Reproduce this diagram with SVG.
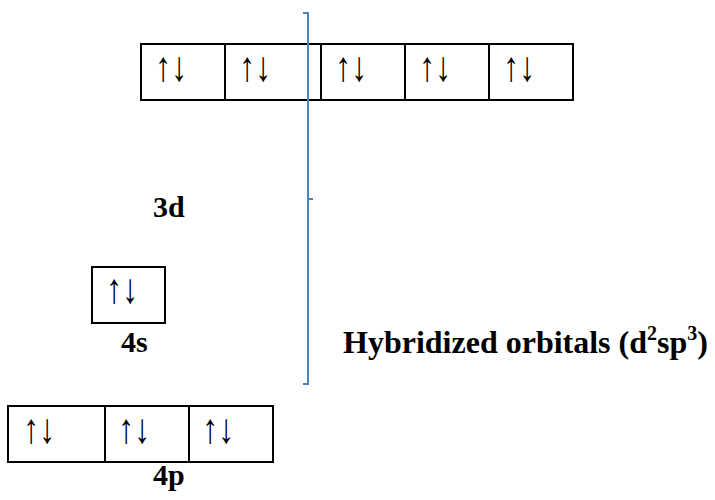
<svg xmlns="http://www.w3.org/2000/svg" width="715" height="500" viewBox="0 0 715 500">
<style>
.box{fill:none;stroke:#000;stroke-width:2}
.arr{font-family:"Liberation Serif","Times New Roman",serif;font-size:42px;fill:#000}
.lbl{font-family:"Liberation Serif","Times New Roman",serif;font-size:30px;font-weight:bold;fill:#000}
.hyb{font-size:32px}
.brace{fill:none;stroke:#4F81BD;stroke-width:2}
</style>
<rect width="715" height="500" fill="#fff"/>
<g id="orb3d">
<rect class="box" x="141" y="44" width="432" height="56"/>
<line class="box" x1="225" y1="44" x2="225" y2="100"/>
<line class="box" x1="321" y1="44" x2="321" y2="100"/>
<line class="box" x1="405" y1="44" x2="405" y2="100"/>
<line class="box" x1="489" y1="44" x2="489" y2="100"/>
<text class="arr" x="155" y="81" textLength="32" lengthAdjust="spacingAndGlyphs">↑↓</text>
<text class="arr" x="239" y="81" textLength="32" lengthAdjust="spacingAndGlyphs">↑↓</text>
<text class="arr" x="335" y="81" textLength="32" lengthAdjust="spacingAndGlyphs">↑↓</text>
<text class="arr" x="419" y="81" textLength="32" lengthAdjust="spacingAndGlyphs">↑↓</text>
<text class="arr" x="503" y="81" textLength="32" lengthAdjust="spacingAndGlyphs">↑↓</text>
</g>
<g id="label3d"><text class="lbl" x="153" y="217">3d</text></g>
<g id="orb4s">
<rect class="box" x="92" y="267" width="73" height="56"/>
<text class="arr" x="106" y="303" textLength="32" lengthAdjust="spacingAndGlyphs">↑↓</text>
<text class="lbl" x="121" y="352">4s</text>
</g>
<g id="orb4p">
<rect class="box" x="8" y="406" width="265" height="56"/>
<line class="box" x1="105" y1="406" x2="105" y2="462"/>
<line class="box" x1="189" y1="406" x2="189" y2="462"/>
<text class="arr" x="23" y="443" textLength="32" lengthAdjust="spacingAndGlyphs">↑↓</text>
<text class="arr" x="118" y="443" textLength="32" lengthAdjust="spacingAndGlyphs">↑↓</text>
<text class="arr" x="202" y="443" textLength="32" lengthAdjust="spacingAndGlyphs">↑↓</text>
<text class="lbl" x="153" y="485">4p</text>
</g>
<g id="connectors">
<path class="brace" d="M303,13 H308 V384 H303 M308,199 H313"/>
</g>
<g id="hybrid">
<text class="lbl hyb" x="343" y="353">Hybridized orbitals (d<tspan font-size="20" dy="-13">2</tspan><tspan dy="13">sp</tspan><tspan font-size="20" dy="-13">3</tspan><tspan dy="13">)</tspan></text>
</g>
</svg>
